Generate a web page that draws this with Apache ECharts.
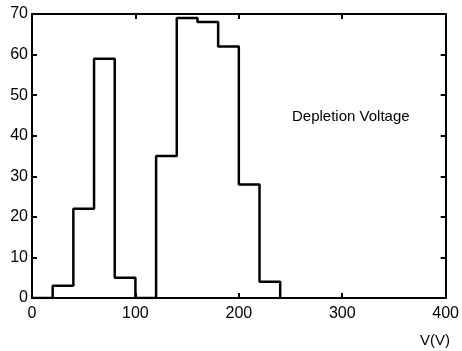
<!DOCTYPE html>
<html>
<head>
<meta charset="utf-8">
<script src="https://cdn.jsdelivr.net/npm/echarts@6/dist/echarts.min.js"></script>
<style>
  html, body { margin: 0; padding: 0; background: #fff; }
  #chart { width: 462px; height: 351px; }
</style>
</head>
<body>
<div id="chart"></div>
<script>
// bin left edges (V) and counts, last point closes the histogram
const binEdges = [0, 20, 40, 60, 80, 100, 120, 140, 160, 180, 200, 220, 240];
const counts = [0, 3, 22, 59, 5, 0, 35, 69, 68, 62, 28, 4, 0];
const xTicks = [0, 100, 200, 300, 400];
const yTicks = [0, 10, 20, 30, 40, 50, 60, 70];

const myChart = echarts.init(document.getElementById('chart'));

const font = '"Liberation Sans", Arial, sans-serif';
const axisLine = { show: true, onZero: false, lineStyle: { color: '#000', width: 2 } };
const tick = { show: true, inside: true, length: 5, lineStyle: { color: '#000', width: 2 } };

const option = {
  animation: false,
  grid: { left: 32, right: 12, top: 14, bottom: 53 },
  xAxis: [
    {
      type: 'value', min: xTicks[0], max: xTicks[xTicks.length - 1], interval: 100,
      axisLine, axisTick: tick, splitLine: { show: false },
      axisLabel: { color: '#000', fontSize: 16, fontFamily: font, margin: 8 }
    },
    {
      type: 'value', position: 'top', min: 0, max: 400, interval: 100,
      axisLine, axisTick: tick, splitLine: { show: false }, axisLabel: { show: false }
    }
  ],
  yAxis: [
    {
      type: 'value', min: yTicks[0], max: yTicks[yTicks.length - 1], interval: 10,
      axisLine, axisTick: tick, splitLine: { show: false },
      axisLabel: { color: '#000', fontSize: 16, fontFamily: font, margin: 4 }
    },
    {
      type: 'value', position: 'right', min: 0, max: 70, interval: 10,
      axisLine, axisTick: tick, splitLine: { show: false }, axisLabel: { show: false }
    }
  ],
  graphic: [
    {
      type: 'text', left: 292, top: 109,
      style: { text: 'Depletion Voltage', fill: '#000', font: '15px ' + font }
    },
    {
      type: 'text', left: 420, top: 333,
      style: { text: 'V(V)', fill: '#000', font: '15px ' + font }
    }
  ],
  series: [
    {
      type: 'line',
      step: 'end',
      symbol: 'none',
      lineStyle: { color: '#000', width: 2.5 },
      data: binEdges.map((x, i) => [x, counts[i]])
    }
  ]
};

myChart.setOption(option);
</script>
</body>
</html>
